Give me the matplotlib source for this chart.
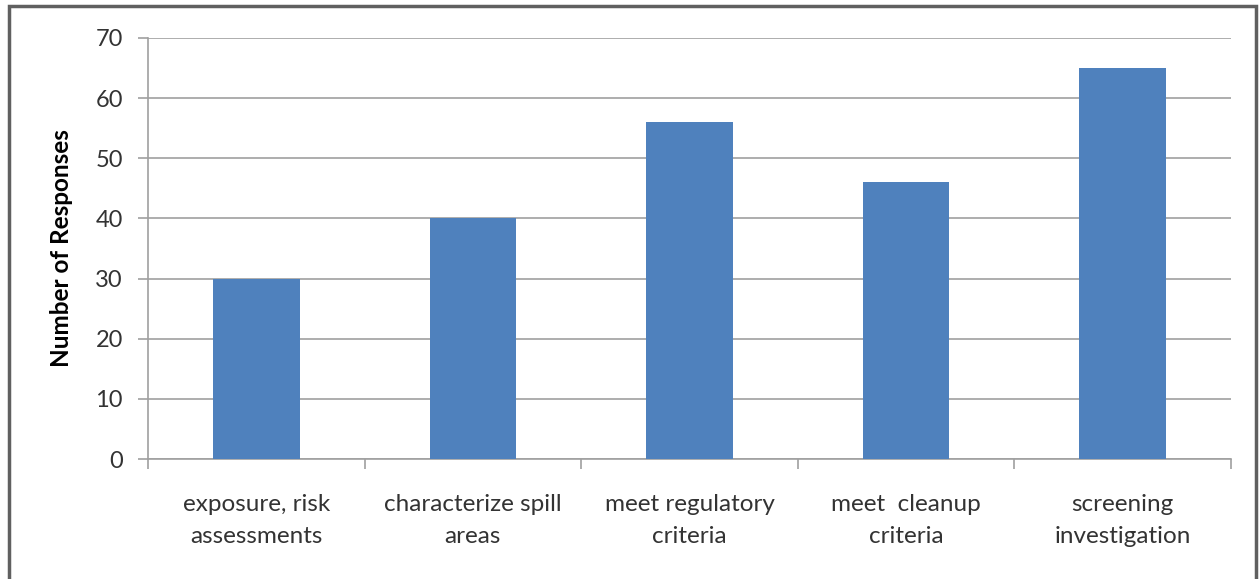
import matplotlib.pyplot as plt
import numpy as np
from matplotlib.patches import Rectangle

categories = [
    "exposure, risk\nassessments",
    "characterize spill\nareas",
    "meet regulatory\ncriteria",
    "meet  cleanup\ncriteria",
    "screening\ninvestigation",
]
responses = [30, 40, 56, 46, 65]
y_ticks = [0, 10, 20, 30, 40, 50, 60, 70]

plt.rcParams["font.family"] = ["Lato", "DejaVu Sans"]

fig = plt.figure(figsize=(12.59, 5.79), dpi=100)
ax = fig.add_axes([148 / 1259, 1 - 459 / 579, (1231 - 148) / 1259, (459 - 38) / 579])

x = np.arange(len(categories))
ax.bar(x, responses, width=0.4, color="#4F81BD", zorder=3)

ax.set_xlim(-0.5, len(categories) - 0.5)
ax.set_ylim(0, 70)
ax.set_yticks(y_ticks)
ax.yaxis.grid(True, color="#A0A0A0", linewidth=1.2, zorder=0)

# labels at bar centres, tick marks at category boundaries
ax.set_xticks(x)
ax.set_xticklabels(categories, fontsize=17.5, color="#333333", linespacing=1.65)
ax.set_xticks(np.arange(-0.5, len(categories)), minor=True)
ax.tick_params(axis="x", which="major", length=0, pad=25)
ax.tick_params(axis="x", which="minor", length=7, color="#A0A0A0", width=1.2)
ax.tick_params(axis="y", length=7, color="#A0A0A0", width=1.2, labelsize=17,
               labelcolor="#333333", pad=11)

for side in ["top", "right"]:
    ax.spines[side].set_visible(False)
for side in ["left", "bottom"]:
    ax.spines[side].set_color("#A0A0A0")
    ax.spines[side].set_linewidth(1.2)

ax.set_ylabel("Number of Responses", fontsize=17.5, fontweight="bold", labelpad=16)

# outer chart border
fig.patches.append(Rectangle((9 / 1259, -0.05), (1256 - 9) / 1259, 1.05 - 6 / 579,
                             transform=fig.transFigure, fill=False,
                             edgecolor="#606060", linewidth=2.5))

fig.savefig("out.png", dpi=100)
